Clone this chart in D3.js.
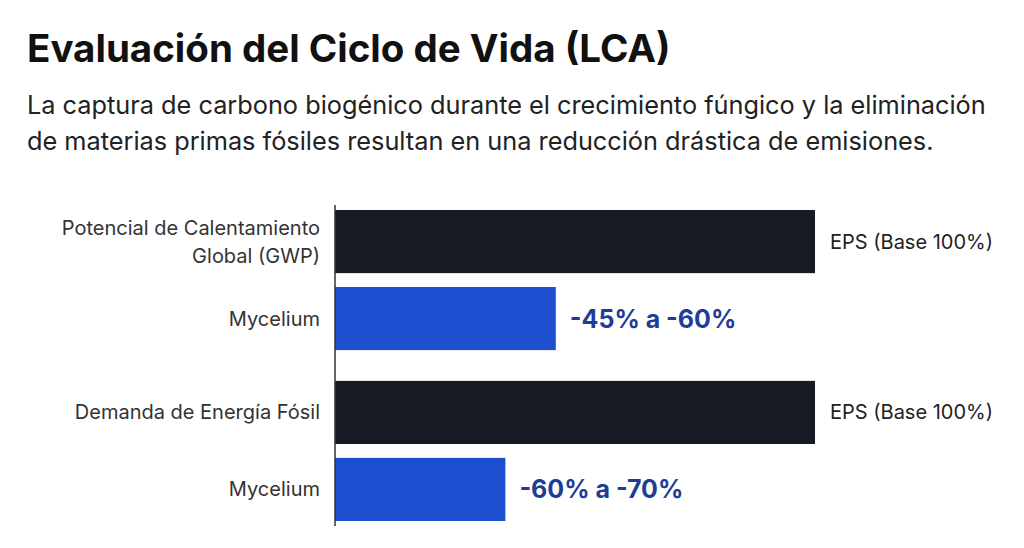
<!DOCTYPE html>
<html lang="es">
<head>
<meta charset="UTF-8">
<script src="https://cdn.jsdelivr.net/npm/d3@7"></script>
<style>
  body { margin: 0; background: #fff; font-family: Inter, "Noto Sans", sans-serif; }
</style>
</head>
<body>
<svg id="chart" width="1024" height="548"></svg>
<script>
    const categories = ["Potencial de Calentamiento|Global (GWP)", "Mycelium", "Demanda de Energía Fósil", "Mycelium"];
    const values = [100, 46, 100, 35.5];
    const valueLabels = ["EPS (Base 100%)", "-45% a -60%", "EPS (Base 100%)", "-60% a -70%"];
    const isBase = [true, false, true, false];

    const svg = d3.select("#chart");

    svg.append("text").attr("x", 27).attr("y", 62)
        .attr("font-size", 38.5).attr("font-weight", 700).attr("fill", "#111")
        .text("Evaluación del Ciclo de Vida (LCA)");
    const sub = ["La captura de carbono biogénico durante el crecimiento fúngico y la eliminación",
                 "de materias primas fósiles resultan en una reducción drástica de emisiones."];
    sub.forEach((s, i) => svg.append("text").attr("x", 27).attr("y", 114 + i * 36)
        .attr("font-size", 25.3).attr("fill", "#222").text(s));

    const x = d3.scaleLinear().domain([0, 100]).range([335, 815]);
    const yGroup = d3.scaleBand().domain([0, 1]).range([210, 521]).paddingInner(0.18).paddingOuter(0);
    const yInner = d3.scaleBand().domain([0, 1]).range([0, yGroup.bandwidth()]).paddingInner(0.18);
    const yPos = i => yGroup(Math.floor(i / 2)) + yInner(i % 2);
    const bh = yInner.bandwidth();

    svg.selectAll("rect.bar").data(values).enter().append("rect")
        .attr("x", x(0)).attr("y", (d, i) => yPos(i))
        .attr("width", d => x(d) - x(0)).attr("height", bh)
        .attr("fill", (d, i) => isBase[i] ? "#161a22" : "#1f4fd1");

    svg.append("line").attr("x1", x(0)).attr("x2", x(0)).attr("y1", 205).attr("y2", 526)
        .attr("stroke", "#333").attr("stroke-width", 1.5);

    categories.forEach((c, i) => {
        const lines = c.split("|");
        const cy = yPos(i) + bh / 2;
        const t = svg.append("text").attr("x", 320).attr("text-anchor", "end")
            .attr("font-size", 20).attr("fill", "#333");
        lines.forEach((l, j) => t.append("tspan").attr("x", 320)
            .attr("y", cy + 7 + (j - (lines.length - 1) / 2) * 28).text(l));
    });

    valueLabels.forEach((v, i) => {
        svg.append("text").attr("x", x(values[i]) + (isBase[i] ? 15 : 14))
            .attr("y", yPos(i) + bh / 2 + (isBase[i] ? 7 : 9))
            .attr("font-size", isBase[i] ? 20 : 25).attr("font-weight", isBase[i] ? 400 : 700)
            .attr("fill", isBase[i] ? "#222" : "#1f3d96").text(v);
    });
</script>
</body>
</html>
